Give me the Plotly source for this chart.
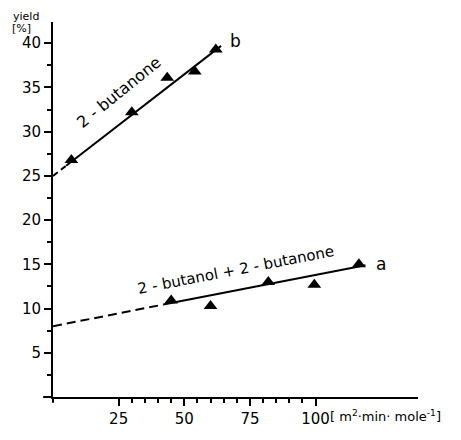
import plotly.graph_objects as go

# measured points
b_x = [7, 30, 43.5, 54, 62]
b_y = [26.8, 32.2, 36.1, 36.8, 39.3]
a_x = [45, 60, 82, 99.5, 116.5]
a_y = [10.9, 10.3, 13.0, 12.7, 15.0]

# regression lines (dashed extrapolation + solid part)
b_dash_x = [0, 5]
b_dash_y = [25.0, 26.15]
b_solid_x = [5, 64]
b_solid_y = [26.15, 39.7]
a_dash_x = [0, 42]
a_dash_y = [8.0, 10.45]
a_solid_x = [42, 119]
a_solid_y = [10.45, 14.9]

x_ticks = [25, 50, 75, 100]
x_minor = [30, 35, 40, 45, 55, 60, 65, 70, 80, 85, 90, 95]
y_ticks = [5, 10, 15, 20, 25, 30, 35, 40]
y_minor = [2.5, 7.5, 12.5, 17.5, 22.5, 27.5, 32.5, 37.5]

FONT = "DejaVu Sans"
fig = go.Figure()
line = dict(color="black", width=2)
fig.add_trace(go.Scatter(x=b_dash_x, y=b_dash_y, mode="lines", line=dict(color="black", width=2, dash="6px,4px")))
fig.add_trace(go.Scatter(x=b_solid_x, y=b_solid_y, mode="lines", line=line))
fig.add_trace(go.Scatter(x=a_dash_x, y=a_dash_y, mode="lines", line=dict(color="black", width=2, dash="9px,5px")))
fig.add_trace(go.Scatter(x=a_solid_x, y=a_solid_y, mode="lines", line=line))
fig.add_trace(go.Scatter(x=b_x, y=b_y, mode="markers", marker=dict(symbol="triangle-up", size=12, color="black")))
fig.add_trace(go.Scatter(x=a_x, y=a_y, mode="markers", marker=dict(symbol="triangle-up", size=12, color="black")))

fig.add_annotation(x=25, y=34.4, text="2 - butanone", showarrow=False, textangle=-39,
                   font=dict(family=FONT, size=16, color="black"))
fig.add_annotation(x=69.5, y=14.4, text="2 - butanol + 2 - butanone", showarrow=False, textangle=-11,
                   font=dict(family=FONT, size=15, color="black"))
fig.add_annotation(x=69.5, y=40.2, text="b", showarrow=False, font=dict(family=FONT, size=17, color="black"))
fig.add_annotation(x=125, y=15.0, text="a", showarrow=False, font=dict(family=FONT, size=17, color="black"))
fig.add_annotation(xref="paper", yref="paper", x=-0.115, y=1.015, xanchor="left", yanchor="middle",
                   text="yield", showarrow=False, font=dict(family=FONT, size=11, color="black"))
fig.add_annotation(xref="paper", yref="paper", x=-0.118, y=0.982, xanchor="left", yanchor="middle",
                   text="[%]", showarrow=False, font=dict(family=FONT, size=11, color="black"))
fig.add_annotation(xref="paper", yref="paper", x=1.068, y=-0.05, xanchor="right", yanchor="middle",
                   text="[ m<sup>2</sup>·min· mole<sup>-1</sup>]", showarrow=False,
                   font=dict(family=FONT, size=13, color="black"))

# page body adds an 8px offset; figure is sized so the visible area matches 461x440
fig.update_layout(
    width=453, height=432, margin=dict(l=45, r=43, t=14, b=28),
    plot_bgcolor="white", paper_bgcolor="white", showlegend=False,
    font=dict(family=FONT, size=15, color="black"),
)
fig.update_xaxes(range=[0, 139], showgrid=False, zeroline=False, showline=True, linecolor="black", linewidth=2,
                 tickvals=x_ticks, ticktext=[str(v) for v in x_ticks], ticks="outside", ticklen=7, tickwidth=2,
                 tickcolor="black", minor=dict(tickvals=x_minor, ticks="outside", ticklen=4, tickwidth=1.5, tickcolor="black"))
fig.update_yaxes(range=[0, 42.4], showgrid=False, zeroline=False, showline=True, linecolor="black", linewidth=2,
                 tickvals=y_ticks, ticktext=[str(v) for v in y_ticks], ticks="outside", ticklen=7, tickwidth=2,
                 tickcolor="black", minor=dict(tickvals=y_minor, ticks="outside", ticklen=4, tickwidth=1.5, tickcolor="black"))
fig.add_shape(type="line", xref="paper", yref="paper", x0=-0.027, x1=0, y0=0, y1=0, line=dict(color="black", width=2))
fig.add_shape(type="line", xref="paper", yref="paper", x0=0, x1=0, y0=-0.015, y1=0, line=dict(color="black", width=2))
fig.write_html("out.html")
